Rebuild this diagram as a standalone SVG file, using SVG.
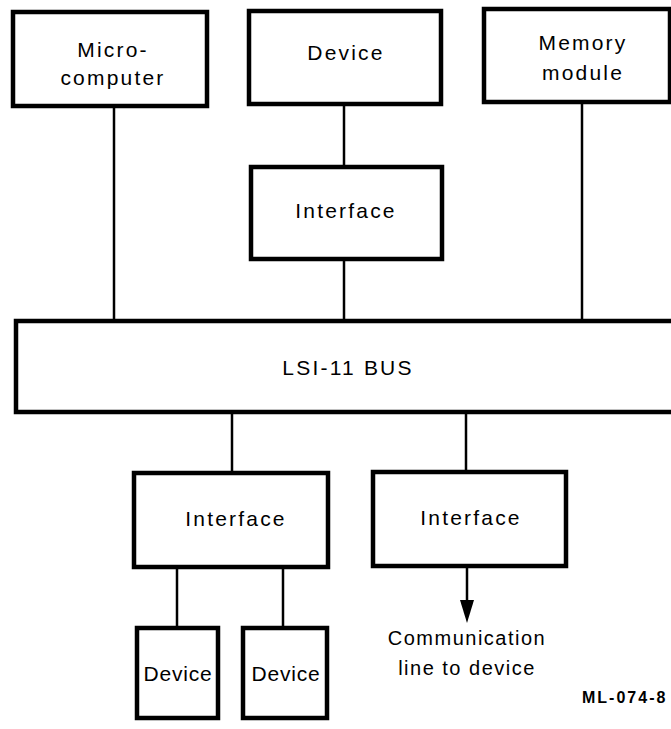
<svg xmlns="http://www.w3.org/2000/svg" width="671" height="729" viewBox="0 0 671 729">
<style>
.box{fill:#fff;stroke:#000;stroke-width:4.5}
.bus{fill:#fff;stroke:#000;stroke-width:4.5}
.ln{stroke:#000;stroke-width:2.5;fill:none}
.t{font-family:"Liberation Sans",Arial,sans-serif;font-size:21px;fill:#000;text-anchor:middle;letter-spacing:2.2px}
.s{font-family:"Liberation Sans",Arial,sans-serif;font-size:20px;fill:#000;text-anchor:middle;letter-spacing:1.5px}
.d{font-family:"Liberation Sans",Arial,sans-serif;font-size:21px;fill:#000;text-anchor:middle;letter-spacing:0.8px}
.id{font-family:"Liberation Sans",Arial,sans-serif;font-size:16px;font-weight:bold;fill:#000;letter-spacing:2px}
</style>
<g id="connectors">
<line class="ln" x1="114" y1="106" x2="114" y2="321"/>
<line class="ln" x1="344" y1="104" x2="344" y2="167"/>
<line class="ln" x1="344" y1="258" x2="344" y2="321"/>
<line class="ln" x1="582" y1="102" x2="582" y2="321"/>
<line class="ln" x1="232" y1="412" x2="232" y2="473"/>
<line class="ln" x1="466" y1="412" x2="466" y2="472"/>
<line class="ln" x1="177" y1="567" x2="177" y2="628"/>
<line class="ln" x1="283" y1="567" x2="283" y2="628"/>
<line class="ln" x1="467" y1="566" x2="467" y2="600"/>
<path d="M460,600 L474,600 L467,623 Z" fill="#000"/>
</g>
<g id="microcomputer">
<rect class="box" x="13" y="12" width="194" height="94"/>
<text class="t" x="113" y="57">Micro-</text>
<text class="t" x="113" y="85">computer</text>
</g>
<g id="device-top">
<rect class="box" x="249" y="11" width="192" height="93"/>
<text class="t" x="346" y="60">Device</text>
</g>
<g id="memory-module">
<rect class="box" x="484" y="9" width="186" height="93"/>
<text class="t" x="583" y="50">Memory</text>
<text class="t" x="583" y="80">module</text>
</g>
<g id="interface-top">
<rect class="box" x="251" y="167" width="191" height="92"/>
<text class="t" x="346" y="218">Interface</text>
</g>
<g id="bus">
<path class="bus" d="M673,321 H16 V412 H673"/>
<text class="t" x="348" y="375">LSI-11 BUS</text>
</g>
<g id="interface-left">
<rect class="box" x="134" y="473" width="194" height="94"/>
<text class="t" x="236" y="526">Interface</text>
</g>
<g id="interface-right">
<rect class="box" x="373" y="472" width="193" height="94"/>
<text class="t" x="471" y="525">Interface</text>
</g>
<g id="device-left">
<rect class="box" x="137" y="628" width="81" height="90"/>
<text class="d" x="178" y="681">Device</text>
</g>
<g id="device-right">
<rect class="box" x="243" y="628" width="84" height="90"/>
<text class="d" x="286" y="681">Device</text>
</g>
<g id="comm-label">
<text class="s" x="467" y="645">Communication</text>
<text class="s" x="467" y="675">line to device</text>
</g>
<text class="id" x="582" y="703">ML-074-8</text>
</svg>
